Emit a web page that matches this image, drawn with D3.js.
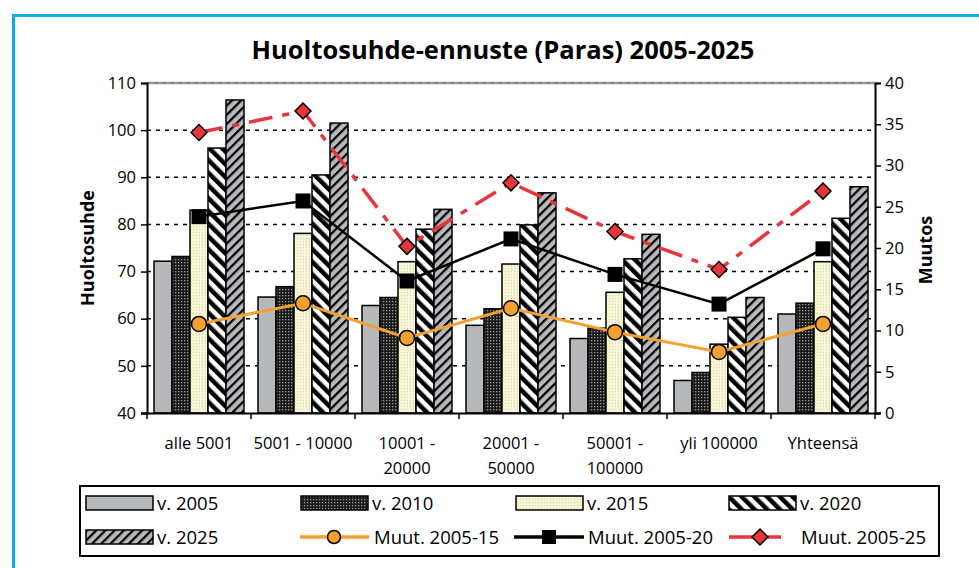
<!DOCTYPE html>
<html>
<head>
<meta charset="utf-8">
<title>Huoltosuhde-ennuste</title>
<script src="https://d3js.org/d3.v7.min.js"></script>
<style>
  body { margin: 0; background: #fff; }
  svg { display: block; font-family: "Open Sans", sans-serif; }
</style>
</head>
<body>
<script>
// data
var categories = ["alle 5001", "5001 - 10000", "10001 - 20000", "20001 - 50000", "50001 - 100000", "yli 100000", "Yhteensä"];
var years = ["v. 2005", "v. 2010", "v. 2015", "v. 2020", "v. 2025"];
var v2005 = [72.2, 64.6, 62.8, 58.6, 55.8, 46.9, 61.0];
var v2010 = [73.2, 66.8, 64.5, 62.1, 58.0, 48.6, 63.3];
var v2015 = [83.0, 78.1, 72.1, 71.6, 65.6, 54.6, 72.1];
var v2020 = [96.2, 90.5, 79.0, 79.9, 72.7, 60.3, 81.3];
var v2025 = [106.4, 101.5, 83.2, 86.7, 77.9, 64.5, 88.0];
var muut15 = [10.8, 13.3, 9.1, 12.7, 9.8, 7.4, 10.8];
var muut20 = [23.8, 25.7, 16.0, 21.1, 16.8, 13.2, 19.9];
var muut25 = [34.0, 36.6, 20.2, 27.9, 22.0, 17.4, 26.9];
var leftTicks = [40, 50, 60, 70, 80, 90, 100, 110];
var rightTicks = [0, 5, 10, 15, 20, 25, 30, 35, 40];

var barSeries = [v2005, v2010, v2015, v2020, v2025];
var fills = ["#b6b9bc", "url(#p2010)", "url(#p2015)", "url(#p2020)", "url(#p2025)"];

var W = 979, H = 568;
var svg = d3.select("body").append("svg").attr("width", W).attr("height", H);

// patterns
var defs = svg.append("defs");
var p = defs.append("pattern").attr("id", "p2010").attr("patternUnits", "userSpaceOnUse").attr("width", 3).attr("height", 3);
p.append("rect").attr("width", 3).attr("height", 3).attr("fill", "#1a1a1a");
p.append("rect").attr("x", 1).attr("y", 1).attr("width", 1.3).attr("height", 1.3).attr("fill", "#9a9a9a");

p = defs.append("pattern").attr("id", "p2015").attr("patternUnits", "userSpaceOnUse").attr("width", 3).attr("height", 3);
p.append("rect").attr("width", 3).attr("height", 3).attr("fill", "#f6f6d6");
p.append("rect").attr("x", 1).attr("y", 1).attr("width", 1).attr("height", 1).attr("fill", "#d6d6a6");

p = defs.append("pattern").attr("id", "p2020").attr("patternUnits", "userSpaceOnUse").attr("width", 9).attr("height", 9)
  .attr("patternTransform", "rotate(-45)");
p.append("rect").attr("width", 9).attr("height", 9).attr("fill", "#fff");
p.append("rect").attr("width", 4.5).attr("height", 9).attr("fill", "#000");

p = defs.append("pattern").attr("id", "p2025").attr("patternUnits", "userSpaceOnUse").attr("width", 6.5).attr("height", 6.5)
  .attr("patternTransform", "rotate(45)");
p.append("rect").attr("width", 6.5).attr("height", 6.5).attr("fill", "#b6b9bc");
p.append("rect").attr("width", 2.2).attr("height", 6.5).attr("fill", "#000");

// outer frame
svg.append("path").attr("d", "M13.5,980 V15.5 H980").attr("fill", "none").attr("stroke", "#0aaeea").attr("stroke-width", 3);

// scales
var x = d3.scaleBand().domain(categories).range([147, 875]);
var xi = d3.scaleBand().domain(years).range([7, x.bandwidth() - 7]);
var y = d3.scaleLinear().domain([40, 110]).range([413, 83]);
var y2 = d3.scaleLinear().domain([0, 40]).range([413, 83]);

// title
svg.append("text").attr("x", 503).attr("y", 59).attr("text-anchor", "middle")
  .attr("font-size", 25.5).attr("font-weight", "bold").text("Huoltosuhde-ennuste (Paras) 2005-2025");

// gridlines
svg.append("g").selectAll("line").data(leftTicks.filter(function(d) { return d > 40 && d < 110; }))
  .enter().append("line")
  .attr("x1", 147).attr("x2", 875)
  .attr("y1", function(d) { return y(d); }).attr("y2", function(d) { return y(d); })
  .attr("stroke", "#000").attr("stroke-width", 1.5).attr("stroke-dasharray", "4,5");
svg.append("line").attr("x1", 147).attr("x2", 875).attr("y1", y(110)).attr("y2", y(110))
  .attr("stroke", "#999").attr("stroke-width", 2.5);
svg.append("line").attr("x1", 147).attr("x2", 875).attr("y1", y(110)).attr("y2", y(110))
  .attr("stroke", "#666").attr("stroke-width", 1).attr("stroke-dasharray", "3,5");

// bars
var groups = svg.append("g").selectAll("g").data(categories).enter().append("g")
  .attr("transform", function(d) { return "translate(" + x(d) + ",0)"; });
groups.selectAll("rect").data(function(d, i) {
    return years.map(function(yr, j) { return { yr: yr, v: barSeries[j][i], j: j }; });
  })
  .enter().append("rect")
  .attr("x", function(d) { return xi(d.yr); })
  .attr("width", xi.bandwidth())
  .attr("y", function(d) { return y(d.v); })
  .attr("height", function(d) { return y(40) - y(d.v); })
  .attr("fill", function(d) { return fills[d.j]; })
  .attr("stroke", "#000").attr("stroke-width", 1.5);

// axes
var axL = svg.append("g").attr("transform", "translate(147,0)")
  .call(d3.axisLeft(y).tickValues(leftTicks).tickSize(6).tickPadding(5));
var axR = svg.append("g").attr("transform", "translate(875,0)")
  .call(d3.axisRight(y2).tickValues(rightTicks).tickSize(6).tickPadding(4));
var axB = svg.append("g").attr("transform", "translate(0,413)")
  .call(d3.axisBottom(x).tickSize(0).tickFormat(""));
[axL, axR, axB].forEach(function(a) {
  a.select(".domain").attr("stroke", "#000").attr("stroke-width", 2);
  a.selectAll(".tick line").attr("stroke", "#000").attr("stroke-width", 1.5);
  a.selectAll(".tick text").attr("font-size", 16.5).attr("fill", "#000").attr("font-family", "Open Sans");
});
axB.select(".domain").attr("d", "M141,0.5H881");
// category boundary ticks
svg.append("g").selectAll("line").data(categories.concat(["end"])).enter().append("line")
  .attr("x1", function(d, i) { return 147 + i * x.bandwidth(); })
  .attr("x2", function(d, i) { return 147 + i * x.bandwidth(); })
  .attr("y1", 413).attr("y2", 419).attr("stroke", "#000").attr("stroke-width", 1.5);

// category labels (wrapped like the original)
var lab = svg.append("g").selectAll("text").data(categories).enter().append("text")
  .attr("x", function(d) { return x(d) + x.bandwidth() / 2; })
  .attr("y", 449).attr("text-anchor", "middle").attr("font-size", 16.5);
lab.each(function(d) {
  var t = d3.select(this);
  var lines = d.length > 12 ? [d.split(" - ")[0] + " -", d.split(" - ")[1]] : [d];
  lines.forEach(function(s, k) {
    t.append("tspan").attr("x", x(d) + x.bandwidth() / 2).attr("dy", k ? 25 : 0).text(s);
  });
});

// axis titles
svg.append("text").attr("transform", "translate(94,248) rotate(-90)").attr("text-anchor", "middle")
  .attr("font-size", 18).attr("font-weight", "bold").text("Huoltosuhde");
svg.append("text").attr("transform", "translate(932,250) rotate(-90)").attr("text-anchor", "middle")
  .attr("font-size", 18).attr("font-weight", "bold").text("Muutos");

// lines
var cx = function(d, i) { return x(categories[i]) + x.bandwidth() / 2; };
var line = d3.line().x(function(d, i) { return cx(d, i); }).y(function(d) { return y2(d); });

svg.append("path").datum(muut15).attr("d", line).attr("fill", "none").attr("stroke", "#f5a031").attr("stroke-width", 3);
svg.append("path").datum(muut20).attr("d", line).attr("fill", "none").attr("stroke", "#000").attr("stroke-width", 2.5);
svg.append("path").datum(muut25).attr("d", line).attr("fill", "none").attr("stroke", "#e8353b").attr("stroke-width", 3.5)
  .attr("stroke-dasharray", "24,10,7,10");

svg.append("g").selectAll("circle").data(muut15).enter().append("circle")
  .attr("cx", cx).attr("cy", function(d) { return y2(d); }).attr("r", 7.5)
  .attr("fill", "#f5a031").attr("stroke", "#000").attr("stroke-width", 1.5);
svg.append("g").selectAll("rect").data(muut20).enter().append("rect")
  .attr("x", function(d, i) { return cx(d, i) - 7.5; }).attr("y", function(d) { return y2(d) - 7.5; })
  .attr("width", 15).attr("height", 15).attr("fill", "#000");
svg.append("g").selectAll("path").data(muut25).enter().append("path")
  .attr("d", function(d, i) { var a = cx(d, i), b = y2(d); return "M" + (a - 8) + "," + b + "L" + a + "," + (b - 8) + "L" + (a + 8) + "," + b + "L" + a + "," + (b + 8) + "Z"; })
  .attr("fill", "#e8353b").attr("stroke", "#000").attr("stroke-width", 1.5);

// legend
var leg = svg.append("g");
leg.append("rect").attr("x", 80).attr("y", 486).attr("width", 859).attr("height", 70)
  .attr("fill", "#fff").attr("stroke", "#000").attr("stroke-width", 2);
var colX = [86, 301, 516, 729];
var rows = [503, 537];
years.forEach(function(yr, j) {
  var r = j < 4 ? 0 : 1, c = j < 4 ? j : 0;
  leg.append("rect").attr("x", colX[c]).attr("y", rows[r] - 7).attr("width", 67).attr("height", 14)
    .attr("fill", fills[j]).attr("stroke", "#000").attr("stroke-width", 1.5);
  leg.append("text").attr("x", colX[c] + 71).attr("y", rows[r] + 7).attr("font-size", 18.5).text(yr);
});
var lr = rows[1];
leg.append("line").attr("x1", 300).attr("x2", 369).attr("y1", lr).attr("y2", lr).attr("stroke", "#f5a031").attr("stroke-width", 3.5);
leg.append("circle").attr("cx", 334).attr("cy", lr).attr("r", 6.5).attr("fill", "#f5a031").attr("stroke", "#000").attr("stroke-width", 1.5);
leg.append("text").attr("x", 374).attr("y", lr + 7).attr("font-size", 18.5).text("Muut. 2005-15");
leg.append("line").attr("x1", 514).attr("x2", 584).attr("y1", lr).attr("y2", lr).attr("stroke", "#000").attr("stroke-width", 3.5);
leg.append("rect").attr("x", 542).attr("y", lr - 7).attr("width", 14).attr("height", 14).attr("fill", "#000");
leg.append("text").attr("x", 588).attr("y", lr + 7).attr("font-size", 18.5).text("Muut. 2005-20");
leg.append("line").attr("x1", 729).attr("x2", 781).attr("y1", lr).attr("y2", lr).attr("stroke", "#e8353b").attr("stroke-width", 3.5)
  .attr("stroke-dasharray", "26,13,13");
leg.append("path").attr("d", "M752," + lr + "L760," + (lr - 8) + "L768," + lr + "L760," + (lr + 8) + "Z")
  .attr("fill", "#e8353b").attr("stroke", "#000").attr("stroke-width", 1.5);
leg.append("text").attr("x", 801).attr("y", lr + 7).attr("font-size", 18.5).text("Muut. 2005-25");
</script>
</body>
</html>
